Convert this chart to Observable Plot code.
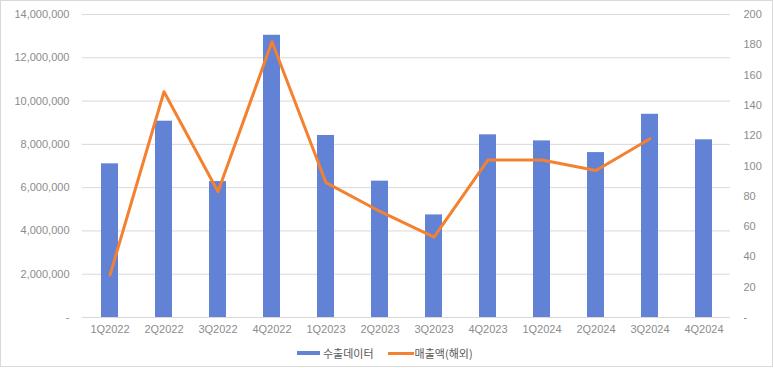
<!DOCTYPE html>
<html>
<head>
<meta charset="utf-8">
<script src="https://cdn.jsdelivr.net/npm/d3@7"></script>
<script src="https://cdn.jsdelivr.net/npm/@observablehq/plot@0.6"></script>
<style>
  html, body { margin: 0; padding: 0; background: #fff; }
  #frame {
    position: relative; box-sizing: border-box; width: 773px; height: 367px;
    border: 1px solid #d9d9d9; background: #fff; overflow: hidden;
  }
  #plot { position: absolute; left: 0; top: 0; }
  #legend {
    position: absolute; left: 296px; top: 344px; height: 16px;
    display: flex; align-items: center;
    font-family: "Noto Sans CJK KR", "Liberation Sans", sans-serif; font-size: 11px; color: #595959;
  }
  .sw-bar { width: 23px; height: 4px; background: #6282d5; margin-right: 3px; }
  .sw-line { width: 26px; height: 3px; background: #f4812f; margin-left: 14px; margin-right: 1px; }
</style>
</head>
<body>
<div id="frame">
  <div id="plot"></div>
  <div id="legend"></div>
</div>
<script>
const quarters = ["1Q2022","2Q2022","3Q2022","4Q2022","1Q2023","2Q2023","3Q2023","4Q2023","1Q2024","2Q2024","3Q2024","4Q2024"];
const exportsData = [7100000, 9070000, 6280000, 13040000, 8410000, 6300000, 4740000, 8440000, 8160000, 7620000, 9390000, 8210000];
const salesOverseas = [28, 149, 83, 182, 89, 70, 53, 104, 104, 97, 118, null];
const leftTicks = [0, 2000000, 4000000, 6000000, 8000000, 10000000, 12000000, 14000000];
const rightTicks = [0, 20, 40, 60, 80, 100, 120, 140, 160, 180, 200];
const seriesNames = ["수출데이터", "매출액(해외)"];

const leftMax = 14000000, rightMax = 200;
const k = leftMax / rightMax;

const barRows = quarters.map((q, i) => ({q, v: exportsData[i]}));
const lineRows = quarters.map((q, i) => ({q, v: salesOverseas[i]})).filter(d => d.v != null);

const tickColor = "#8c8c8c";
const chart = Plot.plot({
  width: 771,
  height: 340,
  marginLeft: 81,
  marginRight: 42,
  marginTop: 13,
  marginBottom: 24,
  style: {fontFamily: "'Liberation Sans', Arial, sans-serif", fontSize: "11px", background: "transparent"},
  x: {type: "band", domain: quarters, paddingInner: 0.69, paddingOuter: 0.345, axis: null},
  y: {domain: [0, leftMax], axis: null},
  marks: [
    Plot.gridY(leftTicks, {stroke: "#d9d9d9", strokeOpacity: 1, strokeWidth: 1}),
    Plot.barY(barRows, {x: "q", y: "v", fill: "#6282d5"}),
    Plot.line(lineRows, {x: "q", y: d => d.v * k, stroke: "#f4812f", strokeWidth: 3, strokeLinejoin: "round"}),
    Plot.axisX({tickSize: 0, tickPadding: 8, fill: tickColor, fontSize: 11, label: null}),
    Plot.axisY(leftTicks, {anchor: "left", tickSize: 0, tickPadding: 13, fill: tickColor, fontSize: 11, label: null,
      tickFormat: d => d === 0 ? "-" : d3.format(",")(d)}),
    Plot.axisY(rightTicks.map(v => v * k), {anchor: "right", tickSize: 0, tickPadding: 13, fill: tickColor, fontSize: 11, label: null,
      tickFormat: d => d === 0 ? "-" : String(Math.round(d / k))})
  ]
});
document.getElementById("plot").appendChild(chart);

const legend = document.getElementById("legend");
legend.innerHTML = `<span class="sw-bar"></span><span>${seriesNames[0]}</span><span class="sw-line"></span><span>${seriesNames[1]}</span>`;
</script>
</body>
</html>
